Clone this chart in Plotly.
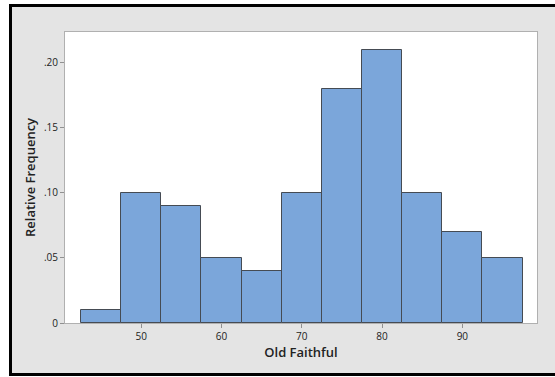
import plotly.graph_objects as go

bin_centers = [45, 50, 55, 60, 65, 70, 75, 80, 85, 90, 95]
rel_freq = [0.01, 0.10, 0.09, 0.05, 0.04, 0.10, 0.18, 0.21, 0.10, 0.07, 0.05]
bin_width = 5
y_tickvals = [0, 0.05, 0.10, 0.15, 0.20]
y_ticktext = ["0", ".05", ".10", ".15", ".20"]
x_tickvals = [50, 60, 70, 80, 90]

fig = go.Figure()
fig.add_trace(go.Bar(
    x=bin_centers, y=rel_freq, width=bin_width,
    marker=dict(color="#7BA6DA", line=dict(color="#454B53", width=1)),
    hoverinfo="x+y",
))

font = "Open Sans, Noto Sans, DejaVu Sans, sans-serif"
W, H = 555, 377
L, R, T, B = 65, 18, 32, 54
fig.update_layout(
    width=W, height=H,
    margin=dict(l=L, r=R, t=T, b=B),
    paper_bgcolor="#E4E4E4",
    plot_bgcolor="white",
    showlegend=False,
    bargap=0,
    font=dict(family=font, size=10, color="#222222"),
    xaxis=dict(
        range=[40.5, 99.3], tickvals=x_tickvals, ticks="outside", ticklen=4,
        tickcolor="#909090", showgrid=False, zeroline=False,
        showline=True, linecolor="#B0B0B0", linewidth=1, mirror=True,
        tickfont=dict(size=10, color="#222222"),
        title=dict(text="Old Faithful", font=dict(size=13, color="#222222", weight=600), standoff=5),
    ),
    yaxis=dict(
        range=[0, 0.2235], tickvals=y_tickvals, ticktext=y_ticktext,
        ticks="outside", ticklen=4, tickcolor="#909090",
        showgrid=False, zeroline=False,
        showline=True, linecolor="#B0B0B0", linewidth=1, mirror=True,
        tickfont=dict(size=10, color="#222222"),
        title=dict(text="Relative Frequency", font=dict(size=13, color="#222222", weight=600), standoff=5),
    ),
)

pw = W - L - R
ph = H - T - B
def px(xp):
    return (xp - L) / pw
def py(yp):
    return (H - B - yp) / ph

def rect(x0, y0, x1, y1, color):
    fig.add_shape(type="rect", xref="paper", yref="paper",
                  x0=px(x0), x1=px(x1), y0=py(y1), y1=py(y0),
                  fillcolor=color, line=dict(width=0), layer="above")

# white outside the frame
rect(-5, -5, 9, 382, "white")
rect(-5, -5, 560, 4, "white")
rect(-5, 376, 560, 382, "white")
# black frame
rect(9, 4, 560, 7, "black")
rect(9, 4, 12, 376, "black")
rect(9, 373, 560, 376, "black")

fig.write_html(
    "out.html",
    config={"displayModeBar": False},
    post_script="document.body.style.margin='0';document.body.style.padding='0';document.body.style.overflow='hidden';",
)
